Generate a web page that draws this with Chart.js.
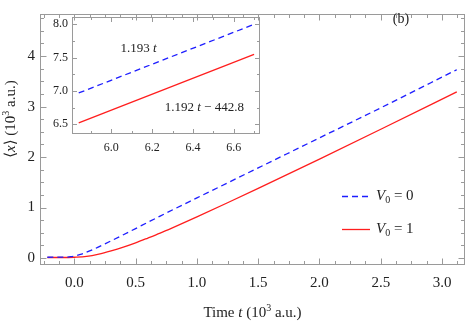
<!DOCTYPE html>
<html>
<head>
<meta charset="utf-8">
<script src="https://cdn.jsdelivr.net/npm/chart.js@4"></script>
<style>
  body { margin: 0; background: #fff; }
  #wrap { position: relative; width: 467px; height: 323px; }
  #mainBox { position: absolute; left: 0; top: 0; width: 467px; height: 323px; }
  #insetBox { position: absolute; left: 40px; top: 0; width: 230px; height: 160px; }
</style>
</head>
<body>
<div id="wrap">
  <div id="mainBox"><canvas id="mainChart"></canvas></div>
  <div id="insetBox"><canvas id="insetChart"></canvas></div>
</div>
<script>
// main curves: time t (10^3 a.u.) and <x> (10^3 a.u.)
const tV0 = [-0.22, -0.1, -0.03, 0.05, 0.15, 0.25, 0.4, 0.55, 0.7, 1.0, 1.5, 2.0, 2.5, 3.12];
const xV0 = [0.015, 0.016, 0.025, 0.07, 0.165, 0.28, 0.46, 0.645, 0.83, 1.19, 1.785, 2.38, 2.975, 3.73];
const tV1 = [-0.22, -0.1, 0.0, 0.1, 0.2, 0.3, 0.4, 0.5, 0.6, 0.7, 0.8, 1.0, 1.25, 1.5, 2.0, 2.5, 3.12];
const xV1 = [0.01, 0.01, 0.015, 0.03, 0.075, 0.14, 0.215, 0.30, 0.395, 0.493, 0.598, 0.815, 1.095, 1.38, 1.96, 2.55, 3.29];
const seriesNames = ['0', '1'];   // V0 values

const xTicks = [0, 0.5, 1, 1.5, 2, 2.5, 3];
const yTicks = [0, 1, 2, 3, 4];

// inset (late times)
const insetT = [5.84, 6.70];
const insetV0 = [6.97, 8.0];
const insetV1 = [6.52, 7.55];
const insetXTicks = [6.0, 6.2, 6.4, 6.6];
const insetYTicks = [6.5, 7.0, 7.5, 8.0];
const fitV0 = '1.193';
const fitV1 = ['1.192', '442.8'];

const SERIF = "'Liberation Serif', 'DejaVu Serif', serif";
const BLUE = 'rgb(30,30,255)';
const RED = 'rgb(255,30,30)';
const FRAME = '#9a9a9a';
const TEXT = '#222';

function toPts(xs, ys) { return xs.map((v, i) => ({ x: v, y: ys[i] })); }

// draw a run of text pieces (italic, superscript...) centered or left aligned
function drawRuns(ctx, runs, x, y, align) {
  let total = 0;
  runs.forEach(r => { ctx.font = r.f; r.w = ctx.measureText(r.t).width; total += r.w; });
  let cx = align === 'center' ? x - total / 2 : x;
  ctx.textAlign = 'left';
  ctx.textBaseline = 'middle';
  runs.forEach(r => { ctx.font = r.f; ctx.fillText(r.t, cx, y + (r.dy || 0)); cx += r.w; });
}

function steps(min, max, step) {
  const out = [];
  for (let v = Math.ceil(min / step - 1e-9) * step; v <= max + 1e-9; v += step) out.push(v);
  return out;
}

// Mathematica-like frame with inward ticks on all four sides
function framePlugin(o) {
  return {
    id: 'frame',
    afterDraw(chart) {
      const { ctx, chartArea: a, scales: { x, y } } = chart;
      const L = Math.round(a.left) + 0.5, R = Math.round(a.right) - 0.5;
      const T = Math.round(a.top) + 0.5, B = Math.round(a.bottom) - 0.5;
      ctx.save();
      ctx.strokeStyle = FRAME;
      ctx.lineWidth = 1;
      ctx.strokeRect(L, T, R - L, B - T);
      ctx.beginPath();
      const hx = (vals, len) => vals.forEach(v => {
        const p = Math.round(x.getPixelForValue(v)) + 0.5;
        if (p < L || p > R) return;
        ctx.moveTo(p, B); ctx.lineTo(p, B - len);
        ctx.moveTo(p, T); ctx.lineTo(p, T + len);
      });
      const vy = (vals, len) => vals.forEach(v => {
        const p = Math.round(y.getPixelForValue(v)) + 0.5;
        if (p < T || p > B) return;
        ctx.moveTo(L, p); ctx.lineTo(L + len, p);
        ctx.moveTo(R, p); ctx.lineTo(R - len, p);
      });
      hx(steps(x.min, x.max, o.xMinor), o.minor);
      hx(o.xMajor, o.major);
      vy(steps(y.min, y.max, o.yMinor), o.minor);
      vy(o.yMajor, o.major);
      ctx.stroke();
      ctx.restore();
      if (o.extra) o.extra(chart);
    }
  };
}

function mainExtras(chart) {
  const { ctx, chartArea: a } = chart;
  ctx.save();
  ctx.fillStyle = TEXT;
  const f = '15px ' + SERIF, fi = 'italic 15px ' + SERIF, fs = '10px ' + SERIF;
  // x title
  drawRuns(ctx, [
    { t: 'Time ', f: f }, { t: 't', f: fi }, { t: ' (10', f: f },
    { t: '3', f: fs, dy: -5 }, { t: ' a.u.)', f: f }
  ], (a.left + a.right) / 2, 313, 'center');
  // y title
  ctx.save();
  ctx.translate(11, 119);
  ctx.rotate(-Math.PI / 2);
  drawRuns(ctx, [
    { t: '\u27E8', f: f }, { t: 'x', f: fi }, { t: '\u27E9 (10', f: f },
    { t: '3', f: fs, dy: -5 }, { t: ' a.u.)', f: f }
  ], 0, 0, 'center');
  ctx.restore();
  // panel label
  drawRuns(ctx, [{ t: '(b)', f: '14px ' + SERIF }], 401, 19, 'center');
  // legend
  const ly = [196, 229];
  chart.data.datasets.forEach((ds, i) => {
    ctx.save();
    ctx.strokeStyle = ds.borderColor;
    ctx.lineWidth = ds.borderWidth;
    ctx.setLineDash(ds.borderDash || []);
    ctx.beginPath();
    ctx.moveTo(342, ly[i] + 0.5); ctx.lineTo(370, ly[i] + 0.5);
    ctx.stroke();
    ctx.restore();
    drawRuns(ctx, [
      { t: 'V', f: fi }, { t: '0', f: '10px ' + SERIF, dy: 4 }, { t: ' = ' + seriesNames[i], f: f }
    ], 376, ly[i], 'left');
  });
  ctx.restore();
}

function insetExtras(chart) {
  const { ctx, scales: { x, y } } = chart;
  ctx.save();
  ctx.fillStyle = TEXT;
  const f = '13px ' + SERIF, fi = 'italic 13px ' + SERIF;
  drawRuns(ctx, [{ t: fitV0 + ' ', f: f }, { t: 't', f: fi }],
    x.getPixelForValue(6.133), y.getPixelForValue(7.634), 'center');
  drawRuns(ctx, [{ t: fitV1[0] + ' ', f: f }, { t: 't', f: fi }, { t: ' \u2212 ' + fitV1[1], f: f }],
    x.getPixelForValue(6.456), y.getPixelForValue(6.756), 'center');
  ctx.restore();
}

function lineSet(label, pts, color, dash) {
  return {
    label: label, data: pts, showLine: true, pointRadius: 0,
    borderColor: color, borderWidth: 1.3, borderDash: dash,
    cubicInterpolationMode: 'monotone', fill: false
  };
}

new Chart(document.getElementById('mainChart'), {
  type: 'scatter',
  data: {
    datasets: [
      lineSet('V0 = 0', toPts(tV0, xV0), BLUE, [6, 4]),
      lineSet('V0 = 1', toPts(tV1, xV1), RED, [])
    ]
  },
  options: {
    responsive: true, maintainAspectRatio: false, animation: false,
    layout: { padding: { top: 3, right: 2, left: 0, bottom: 0 } },
    plugins: { legend: { display: false }, tooltip: { enabled: false } },
    scales: {
      x: {
        type: 'linear', min: -0.28, max: 3.187,
        grid: { display: false, drawTicks: false }, border: { display: false },
        afterBuildTicks: s => { s.ticks = xTicks.map(v => ({ value: v })); },
        afterFit: s => { s.height = 58; },
        ticks: { color: TEXT, padding: 9, maxRotation: 0, font: { family: SERIF, size: 15 },
          callback: v => v.toFixed(1) }
      },
      y: {
        min: -0.139, max: 4.834,
        grid: { display: false, drawTicks: false }, border: { display: false },
        afterBuildTicks: s => { s.ticks = yTicks.map(v => ({ value: v })); },
        afterFit: s => { s.width = 40; },
        ticks: { color: TEXT, padding: 5, font: { family: SERIF, size: 15 },
          callback: v => String(v) }
      }
    }
  },
  plugins: [framePlugin({ xMajor: xTicks, yMajor: yTicks, xMinor: 0.125, yMinor: 0.25,
    major: 6, minor: 3.5, extra: mainExtras })]
});

new Chart(document.getElementById('insetChart'), {
  type: 'scatter',
  data: {
    datasets: [
      lineSet('V0 = 0', toPts(insetT, insetV0), BLUE, [6, 4]),
      lineSet('V0 = 1', toPts(insetT, insetV1), RED, [])
    ]
  },
  options: {
    responsive: true, maintainAspectRatio: false, animation: false,
    layout: { padding: { top: 17, right: 10, left: 0, bottom: 0 } },
    plugins: { legend: { display: false }, tooltip: { enabled: false } },
    scales: {
      x: {
        type: 'linear', min: 5.807, max: 6.729,
        grid: { display: false, drawTicks: false }, border: { display: false },
        afterBuildTicks: s => { s.ticks = insetXTicks.map(v => ({ value: v })); },
        afterFit: s => { s.height = 26; },
        ticks: { color: TEXT, padding: 7, maxRotation: 0, font: { family: SERIF, size: 12 },
          callback: v => v.toFixed(1) }
      },
      y: {
        min: 6.354, max: 8.11,
        grid: { display: false, drawTicks: false }, border: { display: false },
        afterBuildTicks: s => { s.ticks = insetYTicks.map(v => ({ value: v })); },
        afterFit: s => { s.width = 32; },
        ticks: { color: TEXT, padding: 4, font: { family: SERIF, size: 12 },
          callback: v => v.toFixed(1) }
      }
    }
  },
  plugins: [framePlugin({ xMajor: insetXTicks, yMajor: insetYTicks, xMinor: 0.1, yMinor: 0.25,
    major: 4.5, minor: 2.5, extra: insetExtras })]
});
</script>
</body>
</html>
